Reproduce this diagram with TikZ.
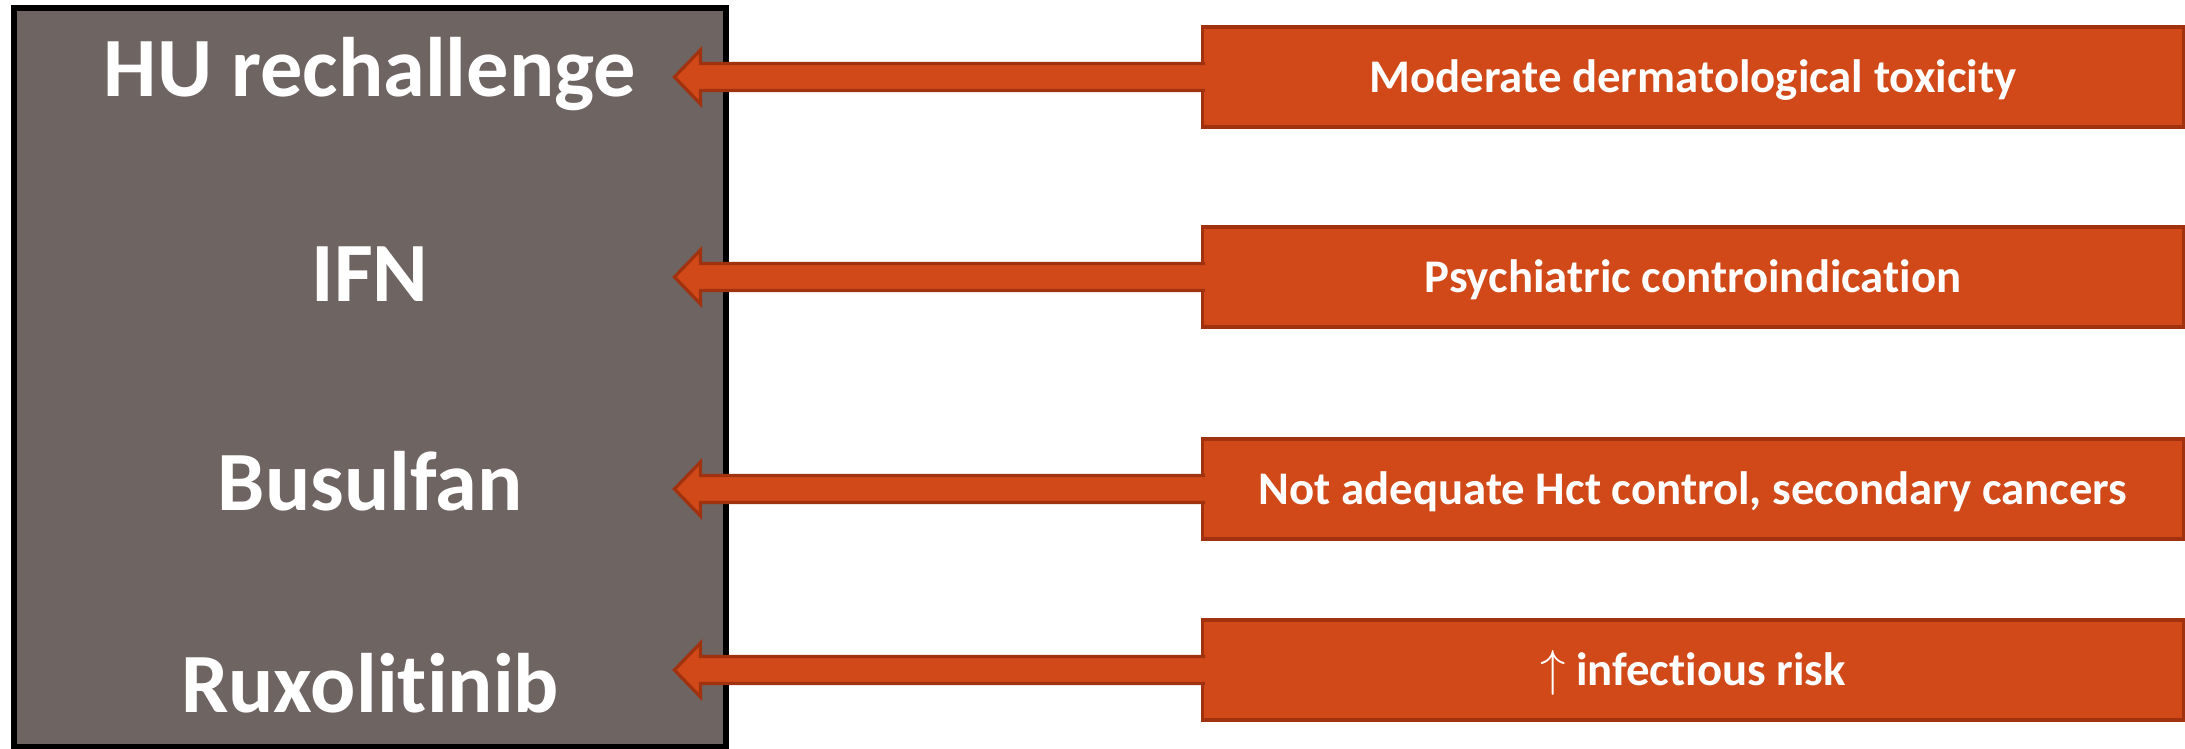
\documentclass[tikz,border=0pt]{standalone}
\usepackage{fontspec}
\setmainfont{Carlito}[Ligatures=NoCommon]
\usetikzlibrary{calc}
\definecolor{drugGrey}{RGB}{110,100,98}
\definecolor{riskOrange}{RGB}{209,73,24}
\definecolor{riskEdge}{RGB}{160,50,16}

\begin{document}
\begin{tikzpicture}[x=0.01cm, y=-0.01cm,
    drug/.style={text=white, anchor=base, font=\fontsize{24}{28}\selectfont\bfseries},
    risk/.style={draw=riskEdge, line width=0.9pt, fill=riskOrange, text=white,
        minimum width=9.8cm, minimum height=1cm, text height=0.87em, text depth=0pt,
        font=\fontsize{13.3}{16}\selectfont\bfseries},
    bigarrow/.style={draw=riskEdge, line width=0.9pt, fill=riskOrange, line join=miter}]

    \useasboundingbox (0,0) rectangle (2185,749);

    % Treatments
    \node[draw, line width=1.7pt, fill=drugGrey, outer sep=0pt, minimum width=7.12cm,
        minimum height=7.39cm, anchor=north west] (drugs) at (14,8) {};
    \node[drug] (hu) at (370,97) {HU rechallenge};
    \node[drug] (ifn) at (370,302) {IFN};
    \node[drug] (busulfan) at (370,511) {Busulfan};
    \node[drug] (ruxo) at (370,712) {Ruxolitinib};

    % Reasons against
    \node[risk] (derm) at (1693,77) {Moderate dermatological toxicity};
    \node[risk] (psych) at (1693,277) {Psychiatric controindication};
    \node[risk] (hct) at (1693,489) {Not adequate Hct control, secondary cancers};
    \node[risk] (infect) at (1693,670) {$\uparrow$ infectious risk};

    % Arrow tips
    \coordinate (huTip) at ($(drugs.east |- derm.west)+(-52,0)$);
    \coordinate (ifnTip) at ($(drugs.east |- psych.west)+(-52,0)$);
    \coordinate (busulfanTip) at ($(drugs.east |- hct.west)+(-52,0)$);
    \coordinate (ruxoTip) at ($(drugs.east |- infect.west)+(-52,0)$);

    % Arrows
    \draw[bigarrow] ($(derm.west)+(4,-13.5)$) -- ($(huTip)+(26,-13.5)$) -- ($(huTip)+(26,-27)$) -- (huTip)
        -- ($(huTip)+(26,27)$) -- ($(huTip)+(26,13.5)$) -- ($(derm.west)+(4,13.5)$);
    \draw[bigarrow] ($(psych.west)+(4,-13.5)$) -- ($(ifnTip)+(26,-13.5)$) -- ($(ifnTip)+(26,-27)$) -- (ifnTip)
        -- ($(ifnTip)+(26,27)$) -- ($(ifnTip)+(26,13.5)$) -- ($(psych.west)+(4,13.5)$);
    \draw[bigarrow] ($(hct.west)+(4,-13.5)$) -- ($(busulfanTip)+(26,-13.5)$) -- ($(busulfanTip)+(26,-27)$) -- (busulfanTip)
        -- ($(busulfanTip)+(26,27)$) -- ($(busulfanTip)+(26,13.5)$) -- ($(hct.west)+(4,13.5)$);
    \draw[bigarrow] ($(infect.west)+(4,-13.5)$) -- ($(ruxoTip)+(26,-13.5)$) -- ($(ruxoTip)+(26,-27)$) -- (ruxoTip)
        -- ($(ruxoTip)+(26,27)$) -- ($(ruxoTip)+(26,13.5)$) -- ($(infect.west)+(4,13.5)$);

\end{tikzpicture}
\end{document}
